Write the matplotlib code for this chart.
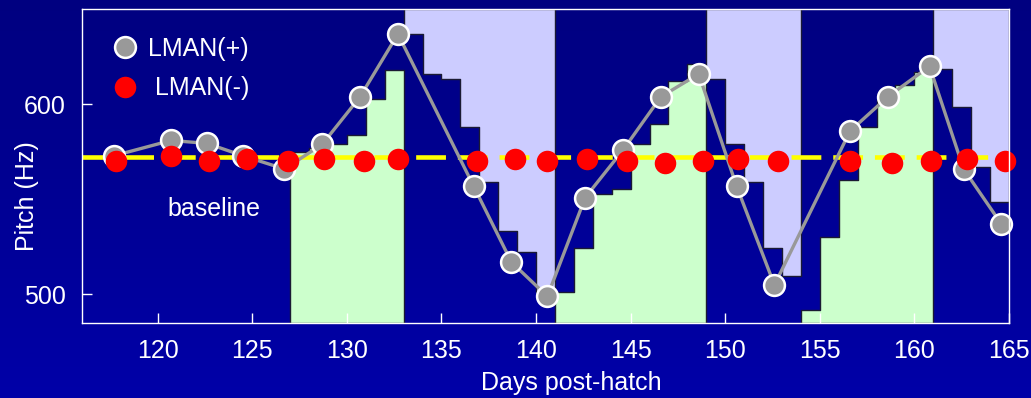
import numpy as np
import matplotlib
matplotlib.use("Agg")
import matplotlib.pyplot as plt
from matplotlib.lines import Line2D
from matplotlib.colors import LinearSegmentedColormap

plt.rcParams["font.family"] = ["Liberation Sans", "DejaVu Sans"]

# Song pitch of the LMAN-intact birds (grey) and LMAN-lesioned birds (red)
days_plus = [117.7, 120.7, 122.6, 124.5, 126.7, 128.7, 130.7, 132.7, 136.7, 138.7, 140.6,
             142.6, 144.6, 146.6, 148.6, 150.6, 152.6, 156.6, 158.6, 160.8, 162.6, 164.6]
pitch_plus = [573, 581, 579.5, 573, 566, 579, 604, 637, 557, 517, 499,
              551, 576, 604, 616, 557, 505, 586, 604, 620, 566, 537]

days_minus = [117.8, 120.7, 122.7, 124.7, 126.9, 128.8, 130.9, 132.7, 136.9, 138.9, 140.6,
              142.7, 144.8, 146.8, 148.8, 150.7, 152.8, 156.6, 158.8, 160.9, 162.8, 164.8]
pitch_minus = [570, 573, 570, 571.5, 570, 571.5, 570, 571.5, 570, 571.5, 570,
               571.5, 570, 569, 570, 571.5, 570, 570, 569, 570, 571.5, 570]

baseline_pitch = 572.5

# Daily target pitch: rising (green) and falling (lavender) staircases
rise_starts = [127, 141, 154]
rise_levels = [
    [575, 577, 579, 584, 602.6, 618],
    [501.4, 524.2, 552.6, 555.3, 579, 589.5, 612.3, 621],
    [492, 530, 560.2, 587.9, 602.3, 610.2, 617.2],
]
fall_starts = [133, 149, 161]
fall_levels = [
    [636.8, 616, 613.3, 588.2, 559.3, 533.3, 522.4, 501.4],
    [613.3, 579, 559.3, 524.2, 509.6],
    [618.6, 598.7, 567.2, 548.7],
]

x_ticks = [120, 125, 130, 135, 140, 145, 150, 155, 160, 165]
y_ticks = [500, 600]
x_range = (116, 165)
y_range = (485, 650)

W, H = 1031, 398
fig = plt.figure(figsize=(W / 100, H / 100), dpi=100)

# vertical navy gradient behind everything
bg = fig.add_axes([0, 0, 1, 1], zorder=-10)
grad = np.linspace(0, 1, 256).reshape(-1, 1)
cmap = LinearSegmentedColormap.from_list("navy", ["#000080", "#0000A8"])
bg.imshow(grad, aspect="auto", cmap=cmap, extent=[0, 1, 0, 1], origin="upper")
bg.set_axis_off()

ax = fig.add_axes([82 / W, (H - 323) / H, 927 / W, 313.7 / H])
ax.set_facecolor("none")
ax.set_xlim(*x_range)
ax.set_ylim(*y_range)

green = "#CCFFCC"
lavender = "#CCCCFF"
edge = "#1a1a33"
for start, levels in zip(rise_starts, rise_levels):
    x = start + np.arange(len(levels) + 1)
    y = np.append(levels, levels[-1])
    ax.fill_between(x, y_range[0], y, step="post", facecolor=green,
                    edgecolor=edge, lw=1, zorder=1)
for start, levels in zip(fall_starts, fall_levels):
    x = start + np.arange(len(levels) + 1)
    y = np.append(levels, levels[-1])
    ax.fill_between(x, y, y_range[1], step="post", facecolor=lavender,
                    edgecolor=edge, lw=1, zorder=1)

ax.axhline(baseline_pitch, color="#FFFF00", lw=3.3, dashes=(6.5, 2.6), zorder=2)

ax.plot(days_plus, pitch_plus, "-o", color="#999999", lw=2.4, ms=15,
        mfc="#999999", mec="white", mew=1.8, zorder=3, clip_on=False)
ax.plot(days_minus, pitch_minus, "o", color="#FF0000", ms=15.5, mec="none",
        zorder=4, clip_on=False)

ax.text(120.5, 541.2, "baseline", color="white", fontsize=18, va="baseline")

handles = [
    Line2D([], [], ls="none", marker="o", ms=15, mfc="#999999", mec="white", mew=1.8),
    Line2D([], [], ls="none", marker="o", ms=15.5, mfc="#FF0000", mec="none"),
]
ax.legend(handles, ["LMAN(+)", " LMAN(-)"], loc="upper left",
          bbox_to_anchor=((115 - 82) / 927, (323 - 37) / 313.7),
          frameon=False, fontsize=18, labelcolor="white", borderpad=0,
          borderaxespad=0, handlelength=0.8, handletextpad=0.52,
          labelspacing=0.62)

ax.set_xticks(x_ticks)
ax.set_yticks(y_ticks)
ax.tick_params(direction="in", length=7, width=1, color="white",
               labelcolor="white", labelsize=18, pad=11.5)
for s in ax.spines.values():
    s.set_color("white")
    s.set_linewidth(1)
    s.set_zorder(5)

ax.set_xlabel("Days post-hatch", color="white", fontsize=18, va="baseline")
ax.xaxis.set_label_coords((571 - 82) / 927, (323 - 390) / 313.7)
ax.set_ylabel("Pitch (Hz)", color="white", fontsize=18, va="center", ha="center")
ax.yaxis.set_label_coords((27 - 82) / 927, (323 - 196.5) / 313.7)

fig.savefig("out.png", dpi=100)
